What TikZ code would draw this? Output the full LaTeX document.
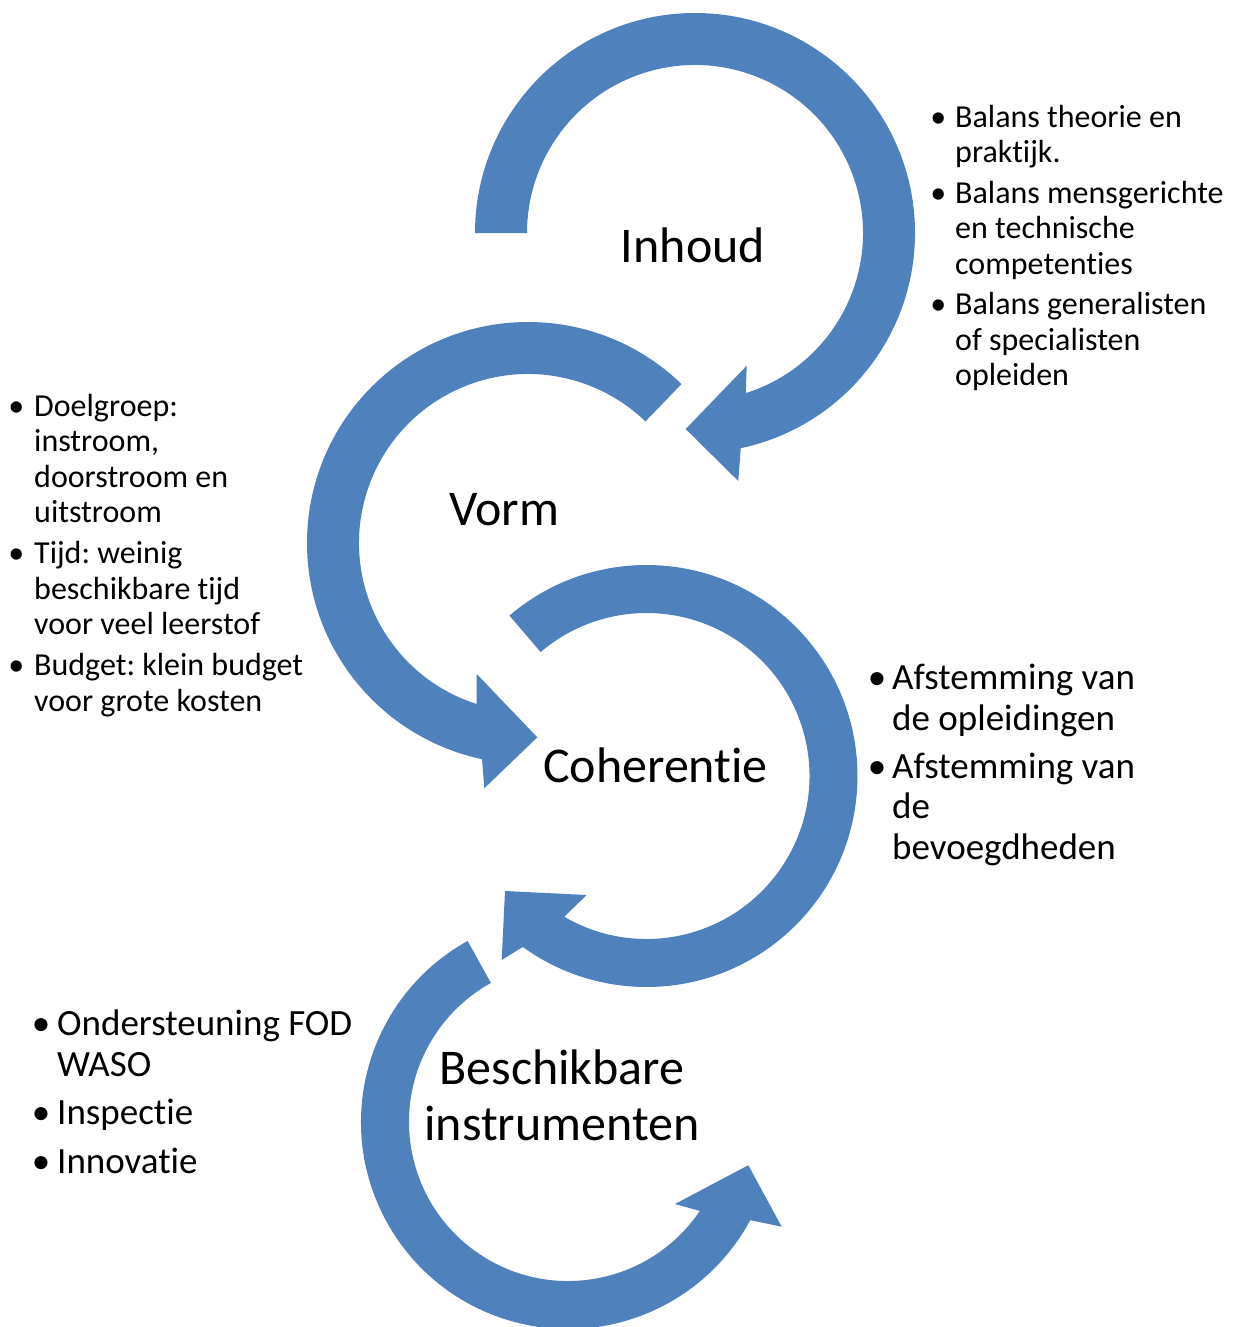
\documentclass[tikz,border=0pt]{standalone}
\usepackage{fontspec}
\setmainfont{Carlito}[Ligatures=NoCommon]
\usetikzlibrary{calc}
\definecolor{cycleblue}{HTML}{4F81BD}
\frenchspacing
% bullet hung into the left margin of a note line
\newcommand{\itemdot}[1]{\llap{\textbullet\hspace{#1}}}
% fixes the height of a first line, so the first baseline sits a known distance below the top
\newcommand{\firstrule}[1]{\rule{0pt}{#1}}

\begin{document}
\begin{tikzpicture}[x=1pt,y=-1pt,
  cyclearrow/.style={fill=cycleblue},
  heading/.style={font=\fontsize{50}{56}\selectfont, inner sep=0pt},
  notes/.style={align=left, inner sep=0pt, anchor=north west},
  smallnotes/.style={notes, font=\fontsize{32}{35.5}\selectfont},
  bignotes/.style={notes, font=\fontsize{37}{40.5}\selectfont}]

\path[use as bounding box] (0,0) rectangle (1234,1327);
\clip (0,0) rectangle (1234,1327);

% centres of the four circular arrows
\coordinate (c1) at (695,233);
\coordinate (c2) at (528,543);
\coordinate (c3) at (646.5,776);
\coordinate (c4) at (568,1122);

% Inhoud: clockwise, head pointing down-left
\fill[cyclearrow] ($(c1)+(180:220)$) arc[start angle=180, end angle=438, radius=220]
  -- (738.3,481) -- (685.7,429) -- (746.7,365.7)
  -- ($(c1)+(432.4:168)$) arc[start angle=432.4, end angle=180, radius=168] -- cycle;

% Vorm: counter-clockwise, head pointing right
\fill[cyclearrow] ($(c2)+(314:221)$) arc[start angle=314, end angle=102, radius=221]
  -- (484.3,788.3) -- (537.3,737.3) -- (476.7,674)
  -- ($(c2)+(107.7:169)$) arc[start angle=107.7, end angle=314, radius=169] -- cycle;

% Coherentie: clockwise, head pointing up-left
\fill[cyclearrow] ($(c3)+(229.5:211)$) arc[start angle=229.5, end angle=485.9, radius=211]
  -- (501.7,960) -- (505,891) -- (586.7,895)
  -- ($(c3)+(480.3:163)$) arc[start angle=480.3, end angle=229.5, radius=163] -- cycle;

% Beschikbare instrumenten: counter-clockwise, head pointing up-right
\fill[cyclearrow] ($(c4)+(241:207)$) arc[start angle=241, end angle=28.3, radius=207]
  -- (781.7,1226.7) -- (748.3,1165.2) -- (675,1204)
  -- ($(c4)+(34:159)$) arc[start angle=34, end angle=241, radius=159] -- cycle;

% headings
\node[heading, anchor=base] (inhoud) at (693,262) {Inhoud};
\node[heading, anchor=base] (vorm) at (504,525) {Vorm};
\node[heading, anchor=base] (coherentie) at (655.5,782) {Coherentie};
\node[heading, anchor=north, align=center] (instrumenten) at (562,1044)
  {\firstrule{40pt}Beschikbare\\instrumenten};

% notes
\node[smallnotes] (inhoudnotes) at (955,97)
  {\firstrule{30pt}\itemdot{9pt}Balans theorie en\\praktijk.\\[5pt]%
   \itemdot{9pt}Balans mensgerichte\\en technische\\competenties\\[5pt]%
   \itemdot{9pt}Balans generalisten\\of specialisten\\opleiden};

\node[smallnotes] (vormnotes) at (34,386)
  {\firstrule{30pt}\itemdot{10pt}Doelgroep:\\instroom,\\doorstroom en\\uitstroom\\[5.5pt]%
   \itemdot{10pt}Tijd: weinig\\beschikbare tijd\\voor veel leerstof\\[5.5pt]%
   \itemdot{10pt}Budget: klein budget\\voor grote kosten};

\node[bignotes] (coherentienotes) at (892,655.5)
  {\firstrule{34pt}\itemdot{6pt}Afstemming van\\de opleidingen\\[7.5pt]%
   \itemdot{6pt}Afstemming van\\de\\bevoegdheden};

\node[bignotes] (instrumentennotes) at (57,1001.5)
  {\firstrule{34pt}\itemdot{7pt}Ondersteuning FOD\\WASO\\[8pt]%
   \itemdot{7pt}Inspectie\\[8pt]%
   \itemdot{7pt}Innovatie};

\end{tikzpicture}
\end{document}
